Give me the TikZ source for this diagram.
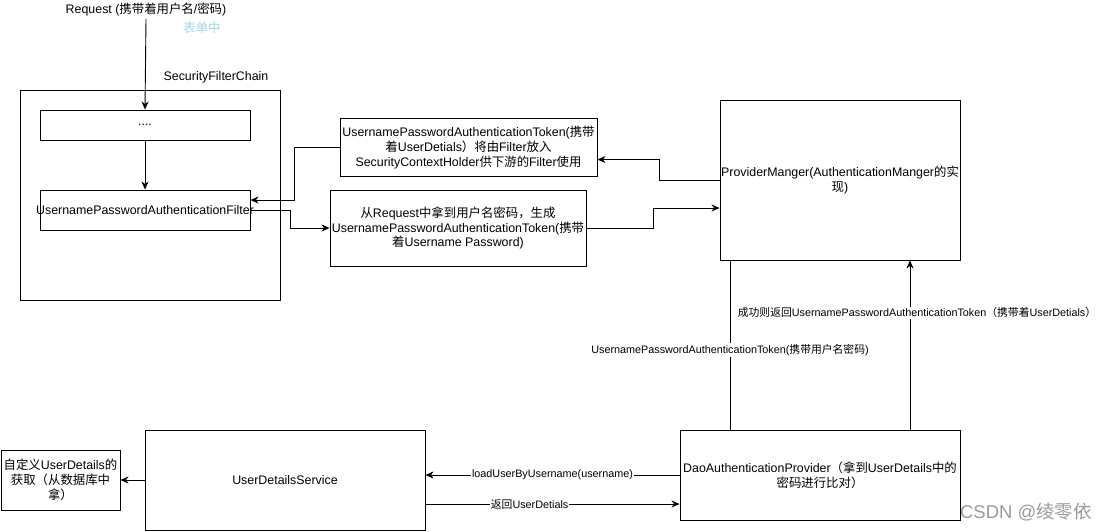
\documentclass[tikz,border=0pt]{standalone}
\usepackage{fontspec}
\setmainfont{Liberation Sans}
\newfontfamily\cjk{Noto Sans CJK SC}
\usetikzlibrary{arrows.meta}
\XeTeXinterchartokenstate=1
\newXeTeXintercharclass\CJKcls
\makeatletter
\def\setcjkrange#1#2{\count@=#1 \loop \XeTeXcharclass\count@=\CJKcls \ifnum\count@<#2 \advance\count@ by 1 \repeat}
\setcjkrange{"4E00}{"9FFF}
\setcjkrange{"3000}{"303F}
\setcjkrange{"FF00}{"FFEF}
\makeatother
\XeTeXinterchartoks 0 \CJKcls = {\cjk}
\XeTeXinterchartoks 4095 \CJKcls = {\cjk}
\XeTeXinterchartoks \CJKcls 0 = {\normalfont}
\XeTeXinterchartoks \CJKcls 4095 = {\normalfont}
\definecolor{formblue}{RGB}{160,214,238}
\definecolor{wmgray}{RGB}{155,155,155}
\tikzset{
  box/.style={draw, line width=0.9pt, rectangle, inner sep=0pt, align=center,
    font=\fontsize{12.4}{14.8}\selectfont},
  txt/.style={inner sep=0pt, align=center, font=\fontsize{12.4}{14.8}\selectfont},
  conn/.style={line width=0.9pt, -{Stealth[length=8pt,width=7pt,inset=2.5pt]}},
  plain/.style={line width=0.9pt},
  elabel/.style={fill=white, inner sep=1pt, font=\fontsize{10.8}{13}\selectfont}
}
\begin{document}
\begin{tikzpicture}[x=1pt,y=-1pt]
\useasboundingbox (0,0) rectangle (1107,531);
% texts
\node[txt] (req) at (146,10) {Request (携带着用户名/密码)};
\node[txt, text=formblue] (form) at (202,28) {表单中};
\node[txt] (sfc) at (216,77) {SecurityFilterChain};
% boxes
\node[box, minimum width=260, minimum height=210] (chain) at (150,195) {};
\node[box, minimum width=210, minimum height=30] (dots) at (145,125) {....};
\node[box, minimum width=210, minimum height=40] (filter) at (145,210) {\makebox[0pt]{UsernamePasswordAuthenticationFilter}};
\node[box, minimum width=257, minimum height=58] (tok2) at (468.5,147.5) {UsernamePasswordAuthenticationToken(携带\\着UserDetials）将由Filter放入\\SecurityContextHolder供下游的Filter使用};
\node[box, minimum width=256, minimum height=76] (tok1) at (458,228) {从Request中拿到用户名密码，生成\\UsernamePasswordAuthenticationToken(携带\\着Username Password)};
\node[box, minimum width=240, minimum height=160] (pm) at (840,180) {ProviderManger(AuthenticationManger的实\\现)};
\node[box, minimum width=280, minimum height=90] (dao) at (820,475) {DaoAuthenticationProvider（拿到UserDetails中的\\密码进行比对）};
\node[box, minimum width=280, minimum height=100] (uds) at (285,480) {UserDetailsService};
\node[box, minimum width=119, minimum height=60] (cust) at (60.5,480) {自定义UserDetails的\\获取（从数据库中\\拿）};
% connectors
\draw[conn] (req.south) ++(0,2) -- (dots.north);
\draw[conn] (dots) -- (filter);
\draw[conn] (filter.east) -- ++(40,0) |- (tok1.west);
\draw[conn] (tok1.east) -- ++(67,0) |- ([yshift=-28pt]pm.west);
\draw[conn] (pm.west) -- ++(-60,0) |- ([yshift=-12pt]tok2.east);
\draw[conn] (tok2.west) -- ++(-45,0) |- ([yshift=10pt]filter.east);
\draw[plain] ([xshift=-110pt]pm.south) -- node[elabel, pos=0.53] {UsernamePasswordAuthenticationToken(携带用户名密码)} ([xshift=-90pt]dao.north);
\draw[conn] ([xshift=90pt]dao.north) -- node[elabel, pos=0.69, xshift=7pt] {成功则返回UsernamePasswordAuthenticationToken（携带着UserDetials）} ([xshift=70pt]pm.south);
\draw[conn] (dao.west) -- node[elabel, pos=0.5] {loadUserByUsername(username)} (dao.west -| uds.east);
\coordinate (r1) at ([yshift=-24pt]uds.east);
\draw[conn] (r1) -- node[elabel, pos=0.41] {返回UserDetials} (r1 -| dao.west);
\draw[conn] (uds.west) -- (cust.east);
% watermark
\node[inner sep=0pt, text=wmgray, font=\fontsize{18.5}{20}\selectfont] (wm) at (1026,512) {CSDN @绫零依};
\end{tikzpicture}
\end{document}
